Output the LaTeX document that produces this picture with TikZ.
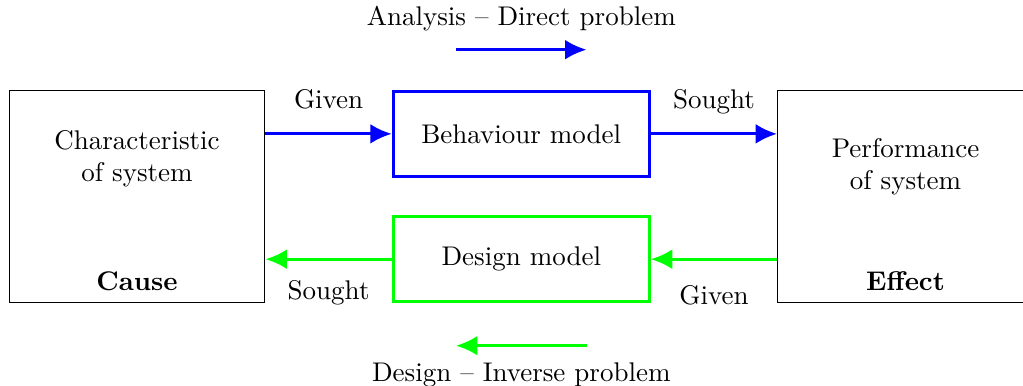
\documentclass[tikz,border=0pt]{standalone}
\usetikzlibrary{positioning, arrows.meta}
\begin{document}
\begin{tikzpicture}[
    box/.style={rectangle, draw, minimum width=3.33cm, minimum height=2.77cm},
    model/.style={rectangle, draw, very thick, minimum width=3.33cm,
                  minimum height=1.11cm, align=center},
    arrow/.style={very thick, ->, >={Latex[length=2.8mm, width=2.6mm]}},
    note/.style={align=center}
  ]
    \useasboundingbox (0,0) rectangle (13.32,5.013);

    % Bloques
    \node[box] (cause) at (1.784,2.454) {};
    \node[model, draw=blue, right=1.645cm of cause.north east, anchor=north west] (behaviour) {Behaviour model};
    \node[model, draw=green, right=1.645cm of cause.south east, anchor=south west] (design) {Design model};
    \node[box, right=1.645cm of behaviour.north east, anchor=north west] (effect) {};

    % Textos de los bloques
    \node[note, yshift=0.49cm] (causetext) at (cause.center) {Characteristic\\of system};
    \node[anchor=base, yshift=0.17cm] (causetitle) at (cause.south) {\textbf{Cause}};
    \node[note, yshift=0.39cm] (effecttext) at (effect.center) {Performance\\of system};
    \node[anchor=base, yshift=0.17cm] (effecttitle) at (effect.south) {\textbf{Effect}};

    % Conexiones
    \draw[arrow, draw=blue] (behaviour.west -| cause.east) -- (behaviour.west)
        node[midway, above=5.3pt] {Given};
    \draw[arrow, draw=blue] (behaviour.east) -- (behaviour.east -| effect.west)
        node[midway, above=3.4pt] {Sought};
    \draw[arrow, draw=green] (design.east -| effect.west) -- (design.east)
        node[midway, below=5.8pt] {Given};
    \draw[arrow, draw=green] (design.west) -- (design.west -| cause.east)
        node[midway, below=3.9pt] {Sought};

    % Sentidos
    \coordinate (ana-start) at ([xshift=-0.85cm, yshift=0.52cm]behaviour.north);
    \coordinate (ana-end) at ([xshift=0.85cm, yshift=0.52cm]behaviour.north);
    \draw[arrow, draw=blue] (ana-start) -- (ana-end)
        node[midway, above=3pt] {Analysis -- Direct problem};
    \coordinate (des-start) at ([xshift=0.85cm, yshift=-0.55cm]design.south);
    \coordinate (des-end) at ([xshift=-0.85cm, yshift=-0.55cm]design.south);
    \draw[arrow, draw=green] (des-start) -- (des-end)
        node[midway, below=2.5pt] {Design -- Inverse problem};
\end{tikzpicture}
\end{document}
